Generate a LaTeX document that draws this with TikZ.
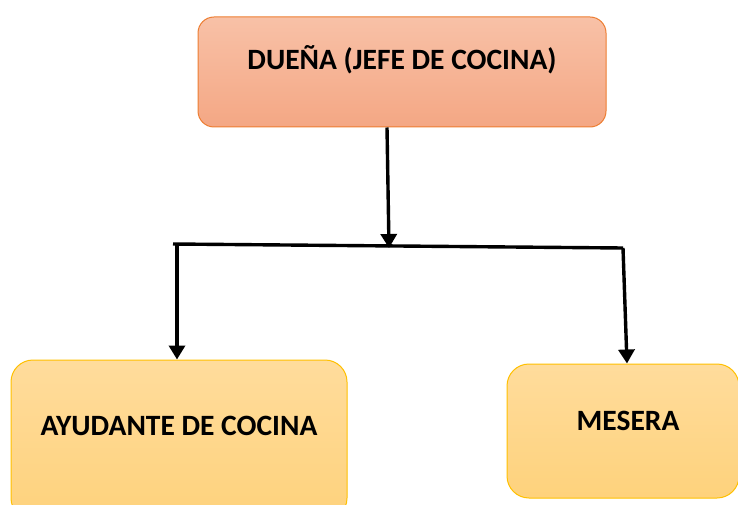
\documentclass[tikz,border=0pt]{standalone}
\usepackage{fontspec}
\setmainfont{Carlito}
\usetikzlibrary{arrows.meta}
\definecolor{topA}{HTML}{F8C1A7}
\definecolor{topB}{HTML}{F4A784}
\definecolor{topE}{HTML}{ED7D31}
\definecolor{botA}{HTML}{FFDC9C}
\definecolor{botB}{HTML}{FED27C}
\definecolor{botE}{HTML}{FFC000}
\tikzset{
  boxtop/.style={draw=topE, line width=1pt, rounded corners=16pt, top color=topA, bottom color=topB, inner sep=0pt},
  boxbot/.style={draw=botE, line width=1pt, rounded corners=22pt, top color=botA, bottom color=botB, inner sep=0pt},
  lbl/.style={font=\fontsize{29.5}{32}\selectfont\bfseries, inner sep=0pt},
  arr/.style={line width=3.4pt, -{Triangle[length=14pt,width=16pt]}},
  ln/.style={line width=3.4pt, line join=miter}
}
\begin{document}
\begin{tikzpicture}[x=1pt,y=1pt]
\useasboundingbox (0,0) rectangle (738,504);
\node[boxtop, minimum width=408pt, minimum height=110pt] (top) at (402,432) {};
\node[lbl] (toptxt) at (402,444) {DUEÑA (JEFE DE COCINA)};
\node[boxbot, minimum width=336pt, minimum height=160pt] (ayu) at (179,64) {};
\node[lbl] (ayutxt) at (179,78) {AYUDANTE DE COCINA};
\node[boxbot, minimum width=232pt, minimum height=134pt] (mes) at (623,73) {};
\node[lbl] (mestxt) at (628,83) {MESERA};
\coordinate (j) at (389,256);
\coordinate (hl) at (173,260);
\coordinate (hlv) at (177,260);
\coordinate (hr) at (623,256);
\draw[arr] ([xshift=-15pt]top.south) -- (j);
\draw[ln] (hl) -- (hr);
\draw[arr] (hlv) -- ([xshift=-2pt]ayu.north);
\draw[arr] (hr) -- ([xshift=4pt]mes.north);
\end{tikzpicture}
\end{document}
